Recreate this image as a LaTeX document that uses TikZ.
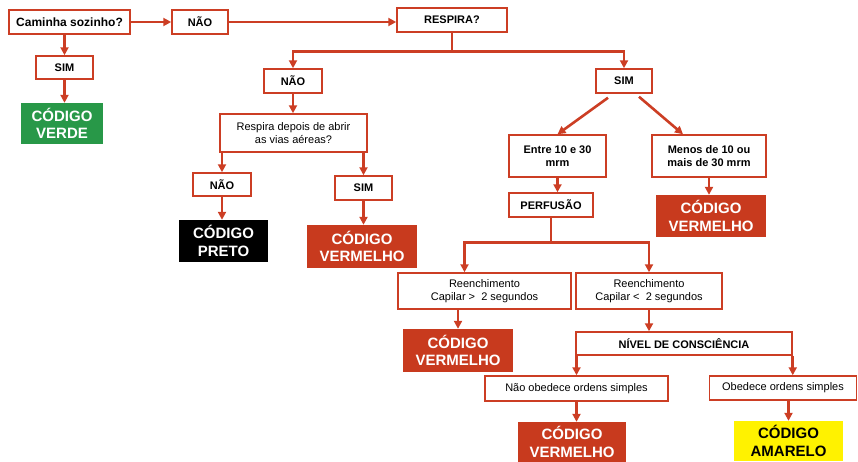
\documentclass[tikz,border=0pt]{standalone}
\usepackage{fontspec}
\setmainfont{Liberation Sans}
\usetikzlibrary{arrows.meta, calc}

\definecolor{flowred}{RGB}{204,62,36}
\definecolor{codered}{RGB}{200,58,30}
\definecolor{codegreen}{RGB}{40,152,72}
\definecolor{codeyellow}{RGB}{255,242,0}

\tikzset{
  qbox/.style={draw=flowred, line width=1.5pt, fill=white, inner sep=0pt, align=center,
               font=\bfseries\fontsize{11}{13}\selectfont},
  tbox/.style={qbox, font=\fontsize{11}{13.5}\selectfont},
  codebox/.style={inner sep=0pt, align=center, text=white,
                  font=\bfseries\fontsize{15}{17.5}\selectfont},
  flow/.style={draw=flowred, line width=2.6pt, -{Triangle[length=8pt,width=8pt]}},
  stem/.style={draw=flowred, line width=2.6pt}
}

\begin{document}
\begin{tikzpicture}[x=1pt, y=-1pt]
    \useasboundingbox (0,0) rectangle (858,461);

    % first question
    \node[qbox, minimum width=121pt, minimum height=24pt, font=\bfseries\fontsize{12}{14}\selectfont] (caminha) at (69.5,22) {Caminha sozinho?};
    \node[qbox, minimum width=56pt, minimum height=24pt] (naoA) at (200,22) {NÃO};
    \node[qbox, minimum width=57pt, minimum height=23pt] (simA) at (64.5,67.5) {SIM};
    \node[codebox, fill=codegreen, minimum width=82pt, minimum height=41pt] (verde) at (62,123.5) {CÓDIGO\\VERDE};
    \node[qbox, minimum width=110pt, minimum height=24pt] (respira) at (452,20) {RESPIRA?};

    % breathing branch
    \node[qbox, minimum width=58pt, minimum height=24pt] (naoB) at (293,81) {NÃO};
    \node[qbox, minimum width=56pt, minimum height=24pt] (simB) at (624,81) {SIM};
    \node[tbox, minimum width=147pt, minimum height=38pt] (vias) at (293.5,133) {Respira depois de abrir\\as vias aéreas?};
    \node[qbox, minimum width=58pt, minimum height=23pt] (naoC) at (222,184.5) {NÃO};
    \node[qbox, minimum width=57pt, minimum height=24pt] (simC) at (363.5,188) {SIM};
    \node[codebox, fill=black, minimum width=89pt, minimum height=42pt] (preto) at (223.5,241) {CÓDIGO\\PRETO};
    \node[codebox, fill=codered, minimum width=110pt, minimum height=43pt] (vermA) at (362,246.5) {CÓDIGO\\VERMELHO};

    % respiratory rate
    \node[qbox, minimum width=97pt, minimum height=42pt] (entre) at (557.5,156) {Entre 10 e 30\\mrm};
    \node[qbox, minimum width=114pt, minimum height=42pt] (menos) at (709,156) {Menos de 10 ou\\mais de 30 mrm};
    \node[qbox, minimum width=84pt, minimum height=24pt] (perf) at (551,205) {PERFUSÃO};
    \node[codebox, fill=codered, minimum width=110pt, minimum height=42pt] (vermB) at (711,216) {CÓDIGO\\VERMELHO};

    % perfusion
    \node[tbox, minimum width=173pt, minimum height=36pt] (reenA) at (484.5,291) {Reenchimento\\Capilar >\ \ 2 segundos};
    \node[tbox, minimum width=146pt, minimum height=36pt] (reenB) at (649,291) {Reenchimento\\Capilar <\ \ 2 segundos};
    \node[codebox, fill=codered, minimum width=110pt, minimum height=43pt] (vermC) at (458,350.5) {CÓDIGO\\VERMELHO};

    % consciousness
    \node[qbox, minimum width=216pt, minimum height=23pt] (nivel) at (684,343.5) {NÍVEL DE CONSCIÊNCIA};
    \node[tbox, minimum width=183pt, minimum height=25pt] (naoob) at (576.5,388.5) {Não obedece ordens simples};
    \node[tbox, minimum width=147pt, minimum height=24pt] (obed) at (783,388) {Obedece ordens simples};
    \node[codebox, fill=codered, minimum width=108pt, minimum height=40pt] (vermD) at (572,442) {CÓDIGO\\VERMELHO};
    \node[codebox, fill=codeyellow, text=black, minimum width=109pt, minimum height=40pt] (amarelo) at (788.5,441) {CÓDIGO\\AMARELO};

    % connectors
    \draw[flow] (caminha.east) -- (naoA.west);
    \draw[flow] (naoA.east) -- (naoA.east -| respira.west);
    \draw[flow] (simA.north |- caminha.south) -- (simA.north);
    \draw[flow] (simA.south) -- (simA.south |- verde.north);

    \draw[stem] (respira.south) -- ++(0,19) coordinate (rsplit);
    \draw[flow] (rsplit) -| (naoB.north);
    \draw[flow] (rsplit) -| (simB.north);

    \draw[flow] (naoB.south) -- (naoB.south |- vias.north);
    \draw[flow] (naoC.north |- vias.south) -- (naoC.north);
    \draw[flow] (simC.north |- vias.south) -- (simC.north);
    \draw[flow] (naoC.south) -- (naoC.south |- preto.north);
    \draw[flow] (simC.south) -- (simC.south |- vermA.north);

    \draw[flow] ([xshift=-16pt, yshift=-4pt]simB.south) -- (entre.north);
    \draw[flow] ([xshift=15pt, yshift=-3pt]simB.south) -- ([xshift=-26pt]menos.north);
    \draw[flow] (entre.south) -- (entre.south |- perf.north);
    \draw[flow] (menos.south) -- (menos.south |- vermB.north);

    \draw[stem] (perf.south) -- ++(0,25) coordinate (psplit);
    \draw[flow] (psplit) -| ([xshift=-20pt]reenA.north);
    \draw[flow] (psplit) -| (reenB.north);
    \draw[flow] (vermC.north |- reenA.south) -- (vermC.north);
    \draw[flow] (reenB.south) -- (reenB.south |- nivel.north);

    \draw[flow] (naoob.north |- nivel.south) -- (naoob.north);
    \draw[flow] (nivel.south east) -- (nivel.south east |- obed.north);
    \draw[flow] (naoob.south) -- (naoob.south |- vermD.north);
    \draw[flow] (amarelo.north |- obed.south) -- (amarelo.north);
\end{tikzpicture}
\end{document}
